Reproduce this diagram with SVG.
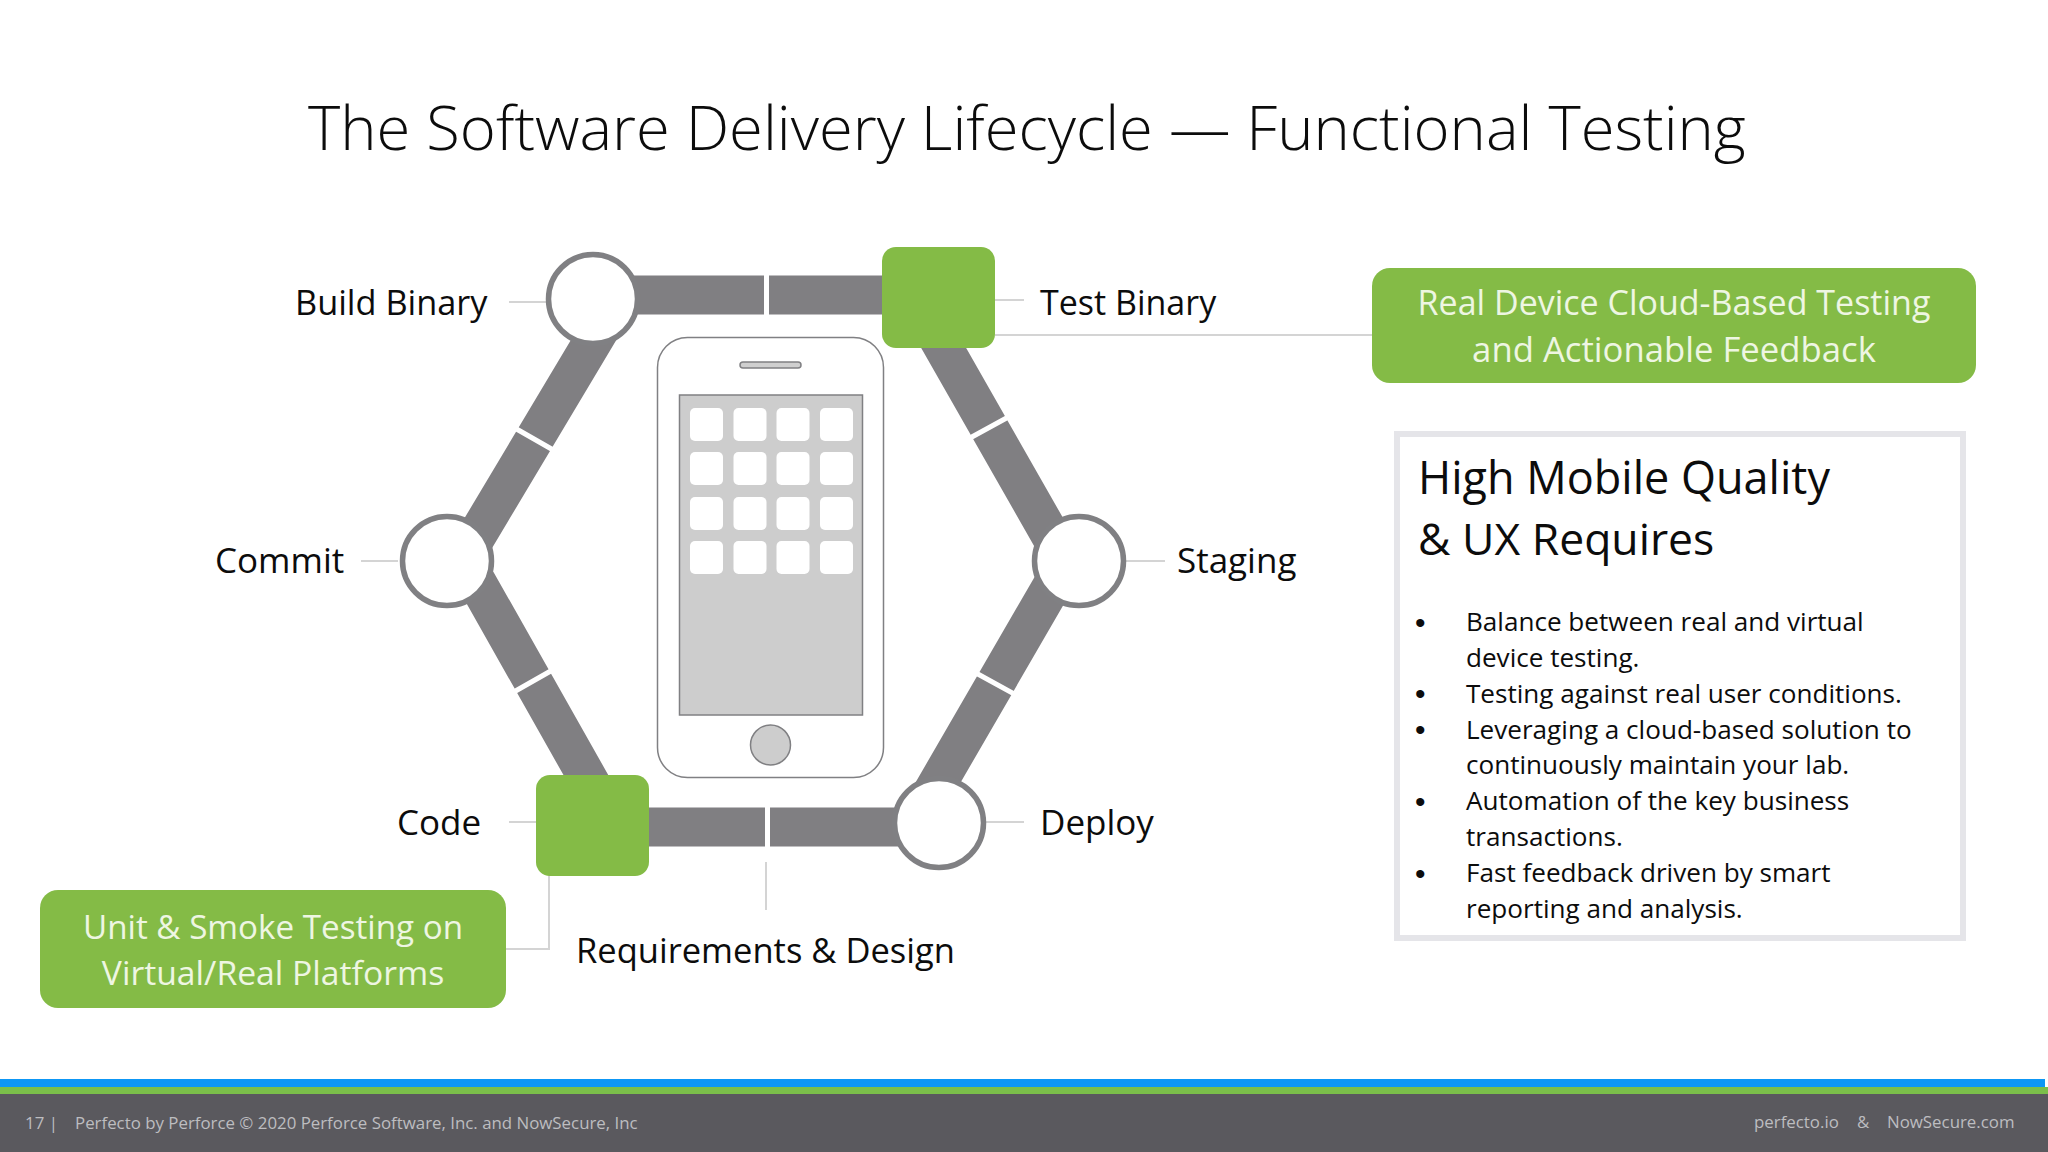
<svg xmlns="http://www.w3.org/2000/svg" width="2048" height="1152" viewBox="0 0 2048 1152">
<style>
text{font-family:"Open Sans","Noto Sans","Liberation Sans",sans-serif;fill:#0c0c0c}
.lab{font-size:35px}
.g{fill:#84bb46}
.gt{font-size:34px;fill:#eef6e2;text-anchor:middle}
.c{fill:#fff;stroke:#808083;stroke-width:5.5}
.bar{stroke:#807f82;stroke-width:39;fill:none}
.gap{stroke:#fff;stroke-width:5;fill:none}
.lead{stroke:#d4d4d4;stroke-width:2;fill:none}
.ic{fill:#fff}
.b{font-size:26.100px}
text.d{font-family:"Liberation Sans",sans-serif;font-size:30px}
.f{font-size:16.850px;fill:#bdbdc0}
</style>
<rect width="2048" height="1152" fill="#fff"/>
<text id="title" x="308" y="150" font-size="61.500" style="font-weight:300">The Software Delivery Lifecycle — Functional Testing</text>
<g id="connectors">
<path class="lead" d="M509 302H547M995 300H1024M995 335H1375M361 561H398M1126 561H1165M985 822H1024M509 822H536M549 875V949H506M766 862V910"/>
<path class="bar" d="M602 326L461 562M930 324L1060 552M470 570L600 800M925 805L1060 572M620 295H890M640 827H930"/>
<path class="gap" d="M513 427L555 451M970 438L1012 415M512 693L556 668M976 673L1018 696M766.500 270V320M767.500 802V853"/>
</g>
<g id="phone">
<rect x="657.500" y="337.500" width="226" height="440" rx="30" fill="#fff" stroke="#808083" stroke-width="1.500"/>
<rect x="740" y="362" width="61" height="6" rx="3" fill="#cfcfcf" stroke="#808083" stroke-width="1.500"/>
<rect x="679.500" y="395" width="183" height="320" fill="#cdcdcd" stroke="#808083" stroke-width="1.500"/>
<ellipse cx="770.500" cy="745" rx="20" ry="20" fill="#cdcdcd" stroke="#808083" stroke-width="1.500"/>
<g class="ic">
<rect x="690" y="408" width="33" height="33" rx="5"/><rect x="733.500" y="408" width="33" height="33" rx="5"/><rect x="776.500" y="408" width="33" height="33" rx="5"/><rect x="820" y="408" width="33" height="33" rx="5"/>
<rect x="690" y="452" width="33" height="33" rx="5"/><rect x="733.500" y="452" width="33" height="33" rx="5"/><rect x="776.500" y="452" width="33" height="33" rx="5"/><rect x="820" y="452" width="33" height="33" rx="5"/>
<rect x="690" y="497" width="33" height="33" rx="5"/><rect x="733.500" y="497" width="33" height="33" rx="5"/><rect x="776.500" y="497" width="33" height="33" rx="5"/><rect x="820" y="497" width="33" height="33" rx="5"/>
<rect x="690" y="541" width="33" height="33" rx="5"/><rect x="733.500" y="541" width="33" height="33" rx="5"/><rect x="776.500" y="541" width="33" height="33" rx="5"/><rect x="820" y="541" width="33" height="33" rx="5"/>
</g>
</g>
<g id="build"><circle class="c" cx="593" cy="299" r="44.500"/><text class="lab" x="295" y="315" style="font-size:34.300px">Build Binary</text></g>
<g id="test"><rect class="g" x="882" y="247" width="113" height="101" rx="14"/><text class="lab" x="1040" y="315" style="font-size:34px">Test Binary</text></g>
<g id="commit"><circle class="c" cx="447" cy="561" r="44.500"/><text class="lab" x="215" y="573">Commit</text></g>
<g id="staging"><circle class="c" cx="1079" cy="561" r="44.500"/><text class="lab" x="1177" y="573">Staging</text></g>
<g id="code"><rect class="g" x="536" y="775" width="113" height="101" rx="14"/><text class="lab" x="397" y="835">Code</text></g>
<g id="deploy"><circle class="c" cx="939" cy="823" r="44.500"/><text class="lab" x="1040" y="835">Deploy</text></g>
<g id="requirements"><text class="lab" x="576" y="963" style="font-size:34.500px">Requirements &amp; Design</text></g>
<g id="cloud"><rect class="g" x="1372" y="268" width="604" height="115" rx="18"/><text class="gt" x="1674" y="315">Real Device Cloud-Based Testing</text><text class="gt" x="1674" y="362" style="font-size:34.700px">and Actionable Feedback</text></g>
<g id="unit"><rect class="g" x="40" y="890" width="466" height="118" rx="18"/><text class="gt" x="273" y="939" style="font-size:33.200px">Unit &amp; Smoke Testing on</text><text class="gt" x="273" y="985" style="font-size:33.700px">Virtual/Real Platforms</text></g>
<g id="quality">
<rect x="1397" y="434" width="566" height="504" fill="#fff" stroke="#e5e5e9" stroke-width="6"/>
<text font-size="45"><tspan x="1418" y="494">High Mobile Quality</tspan><tspan x="1418" y="555" font-size="44.500">&amp; UX Requires</tspan></text>
<g class="b">
<text class="d" x="1415" y="633">•</text><text x="1466" y="631">Balance between real and virtual</text>
<text x="1466" y="667">device testing.</text>
<text class="d" x="1415" y="704">•</text><text x="1466" y="702.500">Testing against real user conditions.</text>
<text class="d" x="1415" y="740">•</text><text x="1466" y="738.500">Leveraging a cloud-based solution to</text>
<text x="1466" y="774">continuously maintain your lab.</text>
<text class="d" x="1415" y="812">•</text><text x="1466" y="810">Automation of the key business</text>
<text x="1466" y="846">transactions.</text>
<text class="d" x="1415" y="884">•</text><text x="1466" y="882">Fast feedback driven by smart</text>
<text x="1466" y="918">reporting and analysis.</text>
</g>
</g>
<g id="footer">
<rect y="1079" width="2045" height="8" fill="#0d97f5"/>
<rect y="1087" width="2048" height="7" fill="#7bbf4a"/>
<rect y="1094" width="2048" height="58" fill="#5a595e"/>
<text class="f" x="25" y="1129">17  |</text>
<text class="f" x="75" y="1129">Perfecto by Perforce © 2020 Perforce Software, Inc. and NowSecure, Inc</text>
<text class="f" x="1754" y="1128">perfecto.io</text>
<text class="f" x="1857" y="1128">&amp;</text>
<text class="f" x="1887" y="1128">NowSecure.com</text>
</g>
</svg>
